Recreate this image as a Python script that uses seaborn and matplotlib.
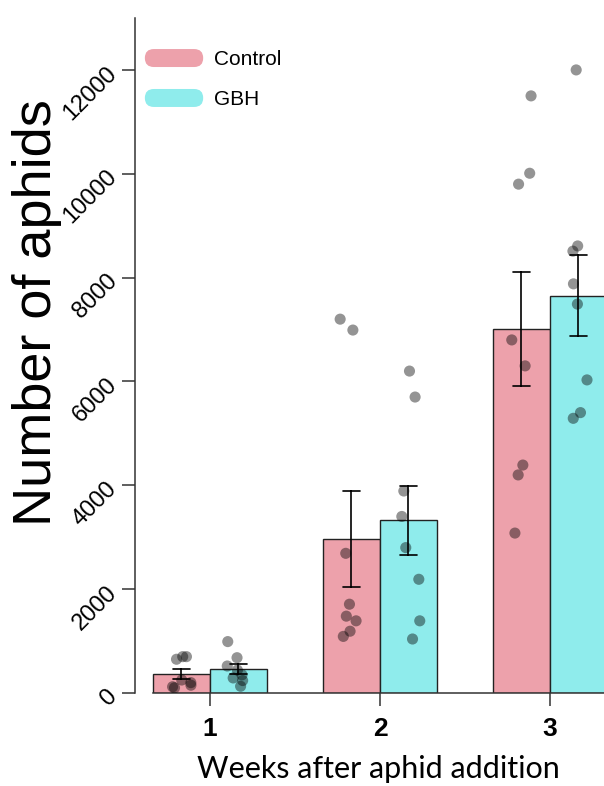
'''
Aphid counts per week, control vs GBH
bars = mean +/- SE, dots = individual plants
'''

#%% modules
import numpy as np
import pandas as pd
import matplotlib
matplotlib.use('Agg')
import matplotlib.pyplot as plt
import seaborn as sns
from matplotlib.patches import FancyBboxPatch, Patch
from matplotlib.legend_handler import HandlerPatch

#%% data
weeks = ['1', '2', '3']
treatments = ['Control', 'GBH']

control_w1 = [700, 700, 650, 250, 200, 150, 120, 100]
gbh_w1 = [990, 680, 520, 440, 350, 290, 240, 130]
control_w2 = [7200, 6990, 2690, 1710, 1480, 1390, 1190, 1090]
gbh_w2 = [6200, 5700, 3890, 3400, 2800, 2190, 1390, 1040]
control_w3 = [11500, 10010, 9800, 6800, 6300, 4390, 4200, 3080]
gbh_w3 = [12000, 8610, 8510, 7880, 7490, 6030, 5400, 5290]

yticks = [0, 2000, 4000, 6000, 8000, 10000, 12000]

groups = {('1', 'Control'): control_w1, ('1', 'GBH'): gbh_w1,
          ('2', 'Control'): control_w2, ('2', 'GBH'): gbh_w2,
          ('3', 'Control'): control_w3, ('3', 'GBH'): gbh_w3}

rows = []
for (w, t), vals in groups.items():
    for v in vals:
        rows.append({'week': w, 'treatment': t, 'aphids': v})
df = pd.DataFrame(rows)

#%% style
sns.set_style('ticks')
plt.rcParams['font.family'] = ['Liberation Sans', 'DejaVu Sans']
plt.rcParams['text.color'] = 'black'
plt.rcParams['axes.labelcolor'] = 'black'
plt.rcParams['xtick.color'] = 'black'
plt.rcParams['ytick.color'] = 'black'

pal = {'Control': '#EDA1AB', 'GBH': '#8FECEC'}
bar_w = 0.67

#%% plot
fig = plt.figure(figsize=(6.04, 7.86), dpi=100)
ax = fig.add_axes([135/604, 93/786, 469/604, 675/786])

sns.barplot(data=df, x='week', y='aphids', hue='treatment',
            order=weeks, hue_order=treatments, palette=pal,
            errorbar='se', width=bar_w, saturation=1,
            capsize=0.2, edgecolor='#222222', linewidth=1,
            err_kws={'color': 'black', 'linewidth': 1.2},
            legend=False, ax=ax)

np.random.seed(3)
sns.stripplot(data=df, x='week', y='aphids', hue='treatment',
              order=weeks, hue_order=treatments,
              palette={'Control': 'black', 'GBH': 'black'},
              dodge=True, jitter=0.14, size=8, alpha=0.42,
              linewidth=0, legend=False, ax=ax)

# stripplot dodges with 0.8 width, pull dots onto the bar centres
shift = 0.2 - bar_w / 4
for coll in ax.collections:
    off = coll.get_offsets()
    if len(off) == 0:
        continue
    off = np.asarray(off)
    c = np.round(off[:, 0])
    off[:, 0] = off[:, 0] - np.sign(off[:, 0] - c) * shift
    coll.set_offsets(off)

#%% axes
xl = (-0.441, 2.318)
ax.set_xlim(*xl)
ax.set_ylim(0, 13000)
ax.set_yticks(yticks)
ax.set_yticklabels([str(v) for v in yticks])

sns.despine(ax=ax)
ax.spines['left'].set_bounds(0, 13000)
ax.spines['bottom'].set_bounds(-bar_w / 2, xl[1])
for s in ['left', 'bottom']:
    ax.spines[s].set_linewidth(1.1)
    ax.spines[s].set_color('#333333')

ax.tick_params(axis='both', direction='out', length=9.5, width=1.1,
               color='#333333')
ax.tick_params(axis='y', labelsize=17, pad=6)
ax.tick_params(axis='x', labelsize=19, pad=8)
plt.setp(ax.get_yticklabels(), rotation=45, ha='right', va='center',
         rotation_mode='anchor')
for t in ax.get_xticklabels():
    t.set_fontweight('bold')

ax.set_ylabel('Number of aphids', fontsize=39)
ax.yaxis.set_label_coords(-0.156, 0.564)
ax.set_xlabel('Weeks after aphid addition', fontsize=22, family='Lato',
              va='top')
ax.xaxis.set_label_coords(0.518, -0.092)


#%% legend with pill shaped keys
class PillHandler(HandlerPatch):
    def create_artists(self, legend, orig_handle, xdescent, ydescent,
                       width, height, fontsize, trans):
        p = FancyBboxPatch((-xdescent, -ydescent), width, height,
                           boxstyle=f"round,pad=0,rounding_size={height/2}",
                           facecolor=orig_handle.get_facecolor(),
                           edgecolor='none', transform=trans)
        return [p]


handles = [Patch(facecolor=pal[t]) for t in treatments]
ax.legend(handles, treatments, handler_map={Patch: PillHandler()},
          loc='upper left', bbox_to_anchor=(0.021, 0.954),
          frameon=False, fontsize=15, handlelength=2.8, handleheight=0.95,
          handletextpad=0.5, labelspacing=0.95, borderpad=0,
          borderaxespad=0)

fig.savefig('out.png', dpi=100)
